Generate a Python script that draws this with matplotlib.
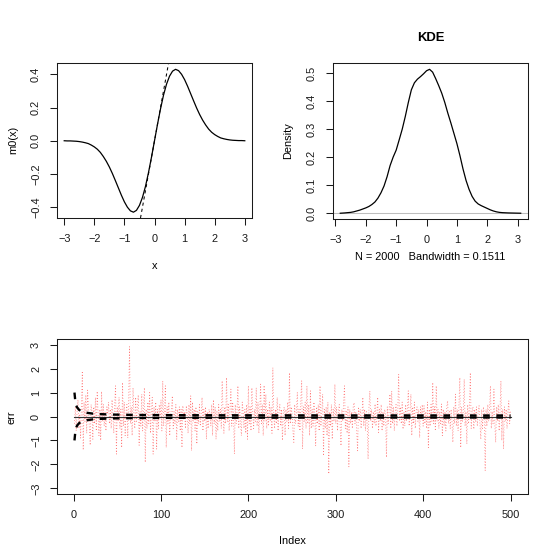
import matplotlib
matplotlib.use("Agg")
import matplotlib.pyplot as plt
import numpy as np

plt.rcParams['font.family'] = ['Liberation Sans', 'DejaVu Sans']

# ---------------- data ----------------
# m0(x) curve
m0_x = [-3.0, -2.9, -2.8, -2.7, -2.6, -2.5, -2.4, -2.3, -2.2, -2.1, -2.0, -1.9, -1.8, -1.7,
        -1.6, -1.5, -1.4, -1.3, -1.2, -1.1, -1.0, -0.9, -0.8, -0.7, -0.6, -0.5, -0.4, -0.3,
        -0.2, -0.1, 0.0, 0.1, 0.2, 0.3, 0.4, 0.5, 0.6, 0.7, 0.8, 0.9, 1.0, 1.1, 1.2, 1.3,
        1.4, 1.5, 1.6, 1.7, 1.8, 1.9, 2.0, 2.1, 2.2, 2.3, 2.4, 2.5, 2.6, 2.7, 2.8, 2.9, 3.0]
m0_y = [0.000, -0.001, -0.001, -0.002, -0.003, -0.005, -0.008, -0.012, -0.017, -0.026,
        -0.037, -0.051, -0.070, -0.095, -0.124, -0.158, -0.197, -0.240, -0.284, -0.328,
        -0.368, -0.400, -0.422, -0.430, -0.419, -0.389, -0.341, -0.275, -0.192, -0.099,
        0.000, 0.099, 0.192, 0.275, 0.341, 0.389, 0.419, 0.430, 0.422, 0.400, 0.368,
        0.328, 0.284, 0.240, 0.197, 0.158, 0.124, 0.095, 0.070, 0.051, 0.037, 0.026,
        0.017, 0.012, 0.008, 0.005, 0.003, 0.002, 0.001, 0.001, 0.000]
ref_line_x = [-1.0, 1.0]
ref_line_y = [-1.0, 1.0]

# KDE curve
kde_x = [-2.84, -2.7, -2.6, -2.5, -2.4, -2.3, -2.2, -2.1, -2.0, -1.9, -1.8, -1.7, -1.6,
         -1.5, -1.4, -1.3, -1.2, -1.1, -1.0, -0.9, -0.8, -0.7, -0.6, -0.5, -0.4, -0.3,
         -0.2, -0.1, 0.0, 0.1, 0.2, 0.3, 0.4, 0.5, 0.6, 0.7, 0.8, 0.9, 1.0, 1.1, 1.2,
         1.3, 1.4, 1.5, 1.6, 1.7, 1.8, 1.9, 2.0, 2.1, 2.2, 2.3, 2.4, 2.5, 2.7, 3.1]
kde_y = [0.000, 0.001, 0.002, 0.003, 0.005, 0.008, 0.011, 0.015, 0.019, 0.024, 0.031,
         0.040, 0.054, 0.073, 0.097, 0.130, 0.170, 0.200, 0.225, 0.262, 0.300, 0.345,
         0.395, 0.440, 0.465, 0.478, 0.487, 0.497, 0.508, 0.513, 0.503, 0.480, 0.455,
         0.428, 0.395, 0.357, 0.322, 0.285, 0.248, 0.205, 0.158, 0.117, 0.085, 0.060,
         0.043, 0.033, 0.027, 0.022, 0.017, 0.012, 0.008, 0.005, 0.003, 0.002, 0.001, 0.000]
kde_title = "KDE"
kde_xlabel = "N = 2000   Bandwidth = 0.1511"

# err series (index 1..500)
err = [
    -0.3, 0.4, -0.6, 0.2, 0.7, -0.5, 0.1, -0.9, 0.5, 1.9, -1.4, 0.6, -0.2, 0.9, -0.7, 1.1, 0.3, -0.4, -1.2, 0.5,
    0.2, -0.95, 0.4, -0.3, 0.8, -0.6, 1.05, 0.1, -0.8, 0.3, -1.0, 1.05, -0.2, 0.5, -0.4, 0.2, -0.6, 0.4, 0.1, 0.6,
    -0.3, 0.3, -0.5, 0.7, 0.0, -0.7, 0.5, 1.28, -1.57, 0.4, -0.2, 0.8, -0.5, 0.3, -1.3, 1.42, -0.4, 0.6, -0.8, 0.2,
    0.5, -0.9, 0.7, 2.92, -0.3, 0.4, -0.8, 1.2, 0.1, -0.5, 0.8, -0.2, 0.3, 0.9, -1.2, 0.2, -0.4, 0.93, -0.6, 0.4,
    1.2, -1.92, 0.3, -0.5, 0.6, -0.3, 1.0, -0.7, 0.2, 0.8, -1.57, 0.4, -0.2, 0.6, -1.36, 0.3, -0.5, 0.5, -0.1, 0.7,
    -0.6, 1.49, -0.4, 0.2, 1.28, -1.3, 0.4, -0.3, 0.6, -0.8, 0.1, 0.3, 0.86, -0.5, 0.2, -0.3, 0.5, -0.95, 0.3, -0.2,
    0.4, -0.6, 0.3, -1.3, 0.45, -0.1, 0.2, -0.5, 0.45, 0.1, -0.7, 0.5, -0.3, 0.86, -1.43, 0.6, -0.2, 0.3, -0.6, 0.4,
    -1.15, 0.2, -0.3, 0.5, -0.4, 0.1, 0.8, -0.6, 0.3, -0.2, 0.4, -0.95, 0.2, -0.5, 0.3, 0.1, -0.4, 0.5, -0.8, 0.7,
    -0.3, 0.4, -0.95, 0.2, -0.6, 0.5, -0.2, 0.3, -0.5, 1.49, 0.2, -0.7, 0.4, -0.3, 1.63, -0.2, 0.5, -0.6, 0.3, 1.14,
    -0.4, 0.6, 0.1, -1.57, 0.5, -0.3, 0.2, 1.28, -0.5, 0.4, -0.2, -0.8, 0.6, 0.2, -0.5, 0.3, -0.7, 0.5, -0.95, 1.28,
    -0.3, 0.4, -0.6, 1.2, 0.2, -0.5, 0.3, -0.2, 1.2, -0.4, 0.6, -0.7, 0.2, 1.35, -0.3, 0.5, -0.8, 1.3, -0.2, 0.93,
    -0.5, 0.3, -0.4, 0.6, -0.2, 0.4, -0.7, 2.04, 0.1, -0.5, 0.3, -0.3, 0.8, -0.6, 0.2, 0.5, -0.4, 0.3, -1.0, 0.2,
    0.4, -0.8, 0.3, -0.2, 0.6, -0.5, 1.83, -0.3, 0.4, 0.1, -0.6, -1.08, 0.5, -0.3, 0.2, 1.0, -0.4, 0.3, -0.6, 0.7,
    1.49, -1.36, 0.4, -0.2, 0.6, -0.5, 1.28, -0.3, 0.5, -0.8, 1.07, -0.5, 0.3, -0.4, 0.6, 0.1, -1.22, 0.4, -0.3, 0.5,
    -0.6, 1.28, -0.4, 0.2, 0.93, -1.64, 0.3, -0.5, 0.4, -0.8, 0.6, -2.4, 0.2, -0.4, 0.5, -0.95, 0.3, -0.2, 1.35, -0.3,
    0.4, -0.6, 0.2, 0.5, -0.4, -1.22, 0.3, -0.2, 0.6, 1.28, -0.5, 0.2, -0.7, 0.4, -2.1, 0.3, -0.3, 0.2, -0.5, 0.4,
    0.58, -0.3, 0.2, -0.6, -1.43, 0.4, -0.2, 0.3, -0.5, 0.1, 0.8, -0.4, 0.3, -0.6, 0.2, -0.3, -1.78, 0.4, 1.07, -0.2,
    0.3, -0.5, 0.2, -0.3, 0.52, -0.4, 0.1, 0.8, -0.67, 0.3, -0.2, 0.5, -0.6, 0.2, -0.4, 0.3, 0.1, -1.71, 0.4, -0.3,
    0.2, 0.93, -0.5, 1.07, -0.3, 0.4, -0.6, 0.2, 0.5, -0.4, 0.3, 1.76, -0.2, 0.4, -0.3, 0.6, -0.53, 0.2, -0.4, 0.5,
    -0.2, 0.3, 1.07, -0.4, 0.2, 0.93, -0.8, 0.4, -0.3, 0.6, -0.5, 0.2, 0.4, -0.2, 0.3, -0.88, 0.4, -0.1, 0.5, -0.4,
    0.45, -0.3, 0.2, -0.5, 0.6, -1.3, 0.3, -0.4, 0.5, -0.2, 1.42, -0.3, 0.4, -0.6, 1.28, -0.2, 0.3, -0.5, 0.2, -0.3,
    0.52, -0.8, 0.3, -0.4, 0.2, -0.6, 0.4, 0.65, -0.3, 0.2, -0.5, 0.3, -0.2, -1.08, 0.4, -0.3, 0.93, -0.4, 0.3, -0.6,
    0.5, 1.63, -1.3, 0.4, -0.2, 0.3, 1.56, -0.4, 0.2, -1.15, 0.5, -0.3, 0.4, 1.83, -0.5, 0.2, 0.4, -0.53, 0.3, -0.2,
    0.4, -0.4, 0.2, 0.45, -0.3, -0.95, 0.3, -0.5, 0.4, 0.1, -2.26, 0.3, -0.4, 0.5, -0.2, 0.3, 1.28, -0.5, 0.2, -0.3,
    1.14, -0.3, -1.08, 0.4, -0.2, 0.5, -0.6, 0.3, 1.49, -1.0, 0.3, -1.36, 0.4, -0.2, 0.3, -0.5, 0.2, 0.65, -0.3, 0.2,
]
err_index = list(range(1, len(err) + 1))

# decaying bands (upper; lower is mirrored)
band_index = [1, 2, 3, 4, 6, 8, 11, 16, 22, 30, 45, 70, 100, 150, 250, 500]
band_upper = [1.0, 0.62, 0.46, 0.38, 0.29, 0.23, 0.19, 0.15, 0.12, 0.10, 0.08, 0.065,
              0.058, 0.052, 0.047, 0.042]
band_lower = [-v for v in band_upper]
zero_index = [1, 500]
zero_level = [0.0, 0.0]

# ---------------- figure ----------------
W, H = 535, 553
fig = plt.figure(figsize=(W / 100, H / 100), dpi=100)

def px_axes(x0, y0, x1, y1):
    return fig.add_axes([x0 / W, 1 - y1 / H, (x1 - x0) / W, (y1 - y0) / H])

FS = 7.9
INK = '#1a1a1a'

def style(ax):
    for s in ax.spines.values():
        s.set_linewidth(0.75)
        s.set_color(INK)
    ax.tick_params(direction='out', length=5, width=0.75, colors=INK,
                   labelsize=FS, pad=6.5)
    for lab in ax.get_yticklabels():
        lab.set_rotation(90)
        lab.set_va('center')

# top-left: m0(x)
ax1 = px_axes(57, 63, 252, 218)
ax1.plot(m0_x, m0_y, color='black', lw=0.9)
ax1.axline((ref_line_x[0], ref_line_y[0]), (ref_line_x[1], ref_line_y[1]),
           color='black', lw=0.75, linestyle=(0, (3, 3)))
ax1.set_xlim(-3.24, 3.24)
ax1.set_ylim(-0.465, 0.468)
ax1.set_xticks([-3, -2, -1, 0, 1, 2, 3])
ax1.set_yticks([-0.4, -0.2, 0.0, 0.2, 0.4])
ax1.set_yticklabels(['\u22120.4', '\u22120.2', '0.0', '0.2', '0.4'])
style(ax1)
fig.text(13 / W, 1 - 140 / H, 'm0(x)', rotation=90, ha='center', va='center', fontsize=FS)
fig.text(154.5 / W, 1 - 266 / H, 'x', ha='center', va='center', fontsize=FS)

# top-right: KDE
ax2 = px_axes(333, 63, 528, 219)
ax2.axhline(0, color='#bebebe', lw=0.75)
ax2.plot(kde_x, kde_y, color='black', lw=0.9)
ax2.set_xlim(-3.08, 3.34)
ax2.set_ylim(-0.0206, 0.5356)
ax2.set_xticks([-3, -2, -1, 0, 1, 2, 3])
ax2.set_yticks([0.0, 0.1, 0.2, 0.3, 0.4, 0.5])
ax2.set_yticklabels(['0.0', '0.1', '0.2', '0.3', '0.4', '0.5'])
style(ax2)
fig.text(430.5 / W, 1 - 38 / H, kde_title, ha='center', va='center',
         fontsize=9.4, fontweight='bold')
fig.text(288 / W, 1 - 140.5 / H, 'Density', rotation=90, ha='center', va='center', fontsize=FS)
fig.text(430.5 / W, 1 - 257 / H, kde_xlabel, ha='center', va='center', fontsize=FS)

# bottom: err
ax3 = px_axes(57, 339, 528, 494)
ax3.plot(err_index, err, color='#ff2020', alpha=0.6, lw=0.6, linestyle=(0, (1, 2.4)))
ax3.plot(zero_index, zero_level, color='#333333', lw=0.8)
dash = (0, (2.8, 2.8))
ax3.plot(band_index, band_upper, color='black', lw=1.7, linestyle=dash)
ax3.plot(band_index, band_lower, color='black', lw=1.7, linestyle=dash)
ax3.set_xlim(-19, 520)
ax3.set_ylim(-3.24, 3.24)
ax3.set_xticks([0, 100, 200, 300, 400, 500])
ax3.set_yticks([-3, -2, -1, 0, 1, 2, 3])
ax3.set_yticklabels(['\u22123', '\u22122', '\u22121', '0', '1', '2', '3'])
style(ax3)
fig.text(12 / W, 1 - 417 / H, 'err', rotation=90, ha='center', va='center', fontsize=FS)
fig.text(292.5 / W, 1 - 541 / H, 'Index', ha='center', va='center', fontsize=FS)

fig.savefig('out.png', dpi=100)
